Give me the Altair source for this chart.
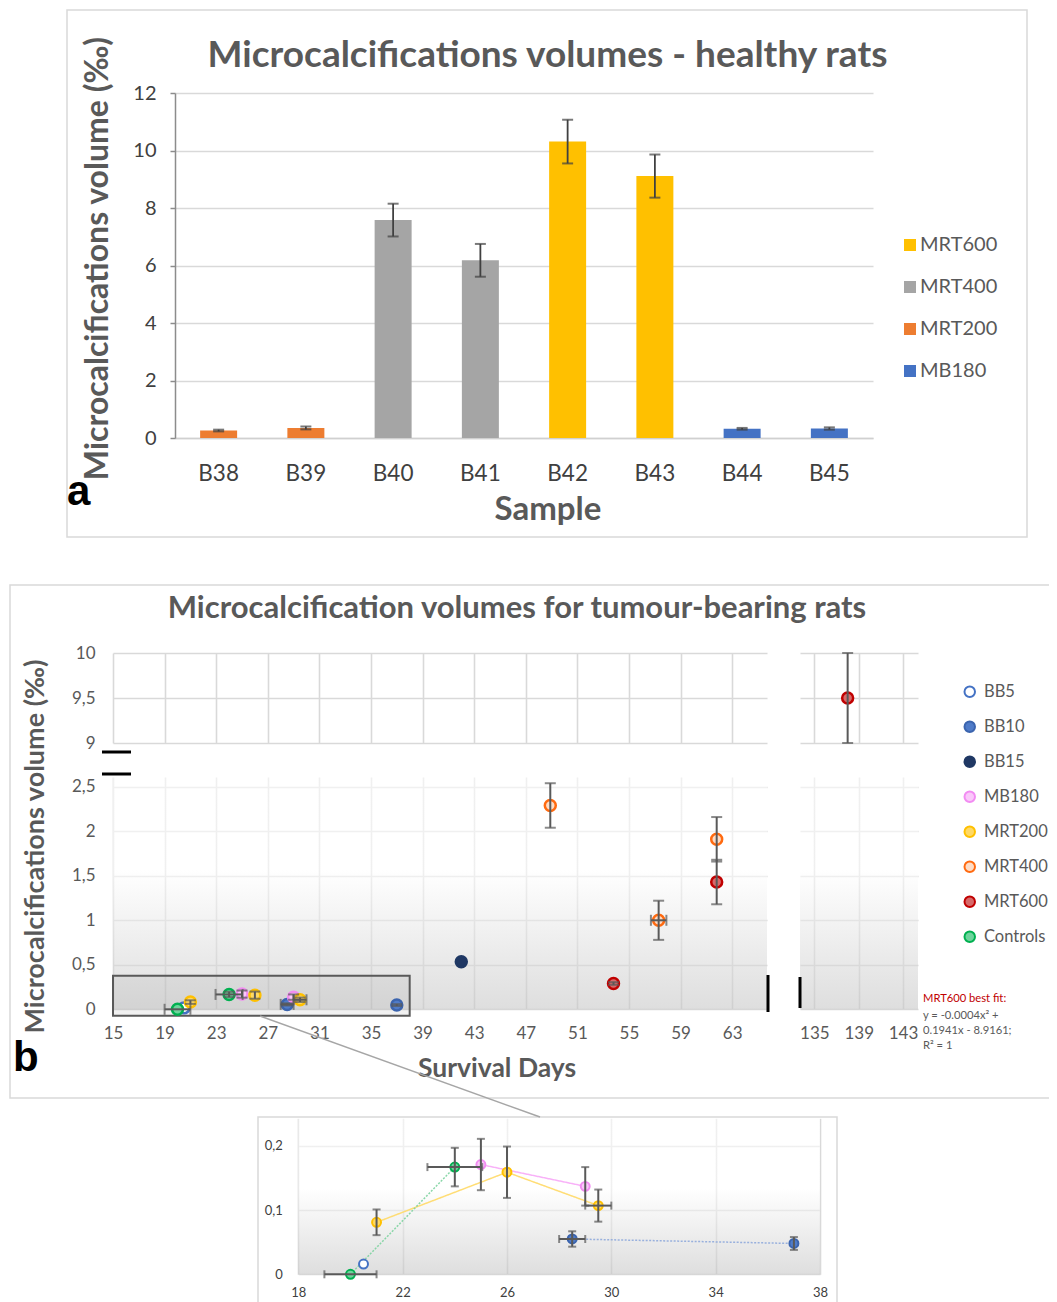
import altair as alt
import pandas as pd

# ---------------- data: panel a (healthy rats) ----------------
samples = ["B38", "B39", "B40", "B41", "B42", "B43", "B44", "B45"]
sample_group = ["MRT200", "MRT200", "MRT400", "MRT400", "MRT600", "MRT600", "MB180", "MB180"]
sample_vol = [0.26, 0.35, 7.58, 6.18, 10.31, 9.11, 0.32, 0.33]
sample_err = [0.03, 0.05, 0.57, 0.57, 0.76, 0.75, 0.03, 0.04]
healthy_groups = ["MRT600", "MRT400", "MRT200", "MB180"]
healthy_colors = ["#FFC000", "#A5A5A5", "#ED7D31", "#4472C4"]
a_yticks = [0, 2, 4, 6, 8, 10, 12]

# ---------------- data: panel b (tumour-bearing rats) ----------------
tumour_groups = ["BB5", "BB10", "BB15", "MB180", "MRT200", "MRT400", "MRT600", "Controls"]
tumour_stroke = ["#4472C4", "#3B64AE", "#1F3864", "#F28CF2", "#FFC000", "#FF6A10", "#C00000", "#00B050"]
tumour_fill = ["#FFFFFF", "#4F7BC8", "#203864", "#FAC8FA", "#FFD965", "#FDDCC6", "#D66A6A", "#6ED49C"]
tumour_line = ["#8FAADC", "#8FAADC", "#203864", "#F7A8F7", "#FFD966", "#F4B183", "#E08080", "#7CD39E"]

pt_group = ["BB5", "BB10", "BB10", "BB15", "MB180", "MB180", "MRT200", "MRT200", "MRT200",
            "MRT400", "MRT400", "MRT400", "MRT600", "MRT600", "MRT600", "Controls", "Controls"]
pt_day = [20.5, 28.5, 37.0, 42.0, 25.0, 29.0, 21.0, 26.0, 29.5,
          48.9, 57.3, 61.8, 53.8, 61.8, 138.0, 20.0, 24.0]
pt_vol = [0.016, 0.055, 0.048, 0.535, 0.171, 0.137, 0.081, 0.159, 0.107,
          2.29, 1.00, 1.91, 0.29, 1.43, 9.50, 0.000, 0.167]
pt_yerr = [0, 0.012, 0.010, 0, 0.040, 0.030, 0.020, 0.040, 0.025,
           0.25, 0.22, 0.25, 0.015, 0.25, 0.50, 0, 0.030]
pt_xerr = [0, 0.5, 0, 0, 0, 0, 0, 0, 0.5,
           0, 0.6, 0, 0, 0, 0, 1.0, 1.05]

main_xticks = [15, 19, 23, 27, 31, 35, 39, 43, 47, 51, 55, 59, 63]
far_xticks = [135, 139, 143]
low_yticks = [0, 0.5, 1, 1.5, 2, 2.5]
up_yticks = [9, 9.5, 10]
inset_xticks = [18, 22, 26, 30, 34, 38]
inset_yticks = [0, 0.1, 0.2]
solid_lines = ["MB180", "MRT200"]
dotted_lines = ["BB10", "Controls"]

fit_lines = ["y = -0.0004x\u00b2 +", "0.1941x - 8.9161;", "R\u00b2 = 1"]

# ---------------- layout (canvas pixels) ----------------
W, H = 1041, 1294
FONT = "Lato"
GRID = "#d9d9d9"
LAB = "#595959"
ERR = "#595959"
COMMA = "replace(format(datum.value, '.1~f'), '.', ',')"

A_X, A_Y = [167, 865], [430, 85]
LL_X, LOW_Y, UP_Y = [105, 759], [1001.3, 769], [735, 645]
UR_X = [792, 910]
IN_X, IN_Y = [290.3, 812], [1266.3, 1110.3]

MAIN_XDOM, FAR_XDOM = [15, 65.7], [133.7, 144.35]
LOW_YDOM, UP_YDOM = [0, 2.61], [9, 10]
IN_XDOM, IN_YDOM = [18, 38], [0, 0.243]


def qs(dom, rng):
    return alt.Scale(domain=dom, range=rng, nice=False, zero=False)


def ax_xgrid(values):
    # top-oriented axis: its grid lines follow the y scale range exactly
    return alt.Axis(orient="top", offset=0, title=None, values=values, grid=True,
                    gridColor=GRID, gridWidth=1.6, domain=False, ticks=False, tickSize=0,
                    labels=False)


def ax_xlab(ypix, values, size=17, pad=16, color=LAB):
    return alt.Axis(orient="bottom", offset=ypix - H, title=None, values=values, grid=False,
                    domain=False, ticks=False, tickSize=0, labelFont=FONT, labelFontSize=size,
                    labelColor=color, labelPadding=pad, labelAngle=0, labelFlush=False,
                    labelOverlap=False)


def ax_y(xpix, values, labels=True, size=17, pad=18, color=LAB):
    kw = dict(orient="left", offset=-xpix, title=None, values=values, grid=True,
              gridColor=GRID, gridWidth=1.6, domain=False, ticks=False, tickSize=0,
              labels=labels)
    if labels:
        kw.update(labelFont=FONT, labelFontSize=size, labelColor=color, labelPadding=pad,
                  labelExpr=COMMA, labelOverlap=False)
    return alt.Axis(**kw)


def grad(start, bottom):
    return alt.LinearGradient(
        gradient="linear", x1=0, x2=0, y1=0, y2=1,
        stops=[alt.GradientStop(color="#ffffff", offset=0),
               alt.GradientStop(color="#ffffff", offset=start),
               alt.GradientStop(color=bottom, offset=1)])


one = pd.DataFrame({"k": [0]})
layers = []


def frame(x0, x1, y0, y1, color="#d9d9d9", width=1.5):
    return alt.Chart(one).mark_rect(fillOpacity=0, stroke=color, strokeWidth=width).encode(
        x=alt.value(x0), x2=alt.value(x1), y=alt.value(y0), y2=alt.value(y1))


def text(s, x, y, size, weight="bold", color=LAB, angle=0, align="center", font=FONT,
         baseline="middle"):
    kw = dict(text=s, font=font, fontSize=size, fontWeight=weight, color=color,
              align=align, baseline=baseline)
    if angle:
        kw["angle"] = angle
    return alt.Chart(one).mark_text(**kw).encode(x=alt.value(x), y=alt.value(y))


# ================= panel a =================
dfa = pd.DataFrame({"sample": samples, "group": sample_group, "vol": sample_vol, "err": sample_err})
dfa["lo"] = dfa["vol"] - dfa["err"]
dfa["hi"] = dfa["vol"] + dfa["err"]

xa = alt.Scale(type="band", domain=samples, range=A_X, paddingInner=0.576, paddingOuter=0.288)
ya = alt.Scale(domain=[0, 12], range=A_Y, nice=False)

leg_a = alt.Legend(orient="none", legendX=892, legendY=227, title=None, symbolType="square",
                   symbolSize=144, symbolStrokeWidth=0, labelFont=FONT, labelFontSize=20,
                   labelColor=LAB, labelOffset=0, rowPadding=22, padding=0, direction="vertical")

layers.append(frame(59, 1019, 2, 529))
bars = alt.Chart(dfa).mark_bar().encode(
    x=alt.X("sample:N", scale=xa, sort=samples,
            axis=alt.Axis(orient="bottom", offset=A_Y[0] - H, title=None, labelAngle=0,
                          labelFont=FONT, labelFontSize=22.5, labelColor="#404040",
                          labelPadding=24, ticks=False, tickSize=0, domainColor="#d0d0d0",
                          domainWidth=1.5, grid=False)),
    y=alt.Y("vol:Q", scale=ya,
            axis=alt.Axis(orient="left", offset=-A_X[0], title=None, values=a_yticks,
                          format="d", labelFont=FONT, labelFontSize=20, labelColor="#404040",
                          labelPadding=14, tickSize=5, tickColor="#8c8c8c", tickWidth=1.5,
                          domainColor="#8c8c8c", domainWidth=1.5, grid=True,
                          gridColor=GRID, gridWidth=1.5)),
    color=alt.Color("group:N", scale=alt.Scale(domain=healthy_groups, range=healthy_colors),
                    legend=leg_a),
)
layers.append(bars)
layers.append(alt.Chart(dfa).mark_rule(color="#404040", strokeWidth=1.8).encode(
    x=alt.X("sample:N", scale=xa, sort=samples, axis=None),
    y=alt.Y("lo:Q", scale=ya, axis=None), y2="hi:Q"))
layers.append(alt.Chart(dfa).transform_fold(["lo", "hi"], as_=["end", "cap"]).mark_tick(
    orient="horizontal", size=11, thickness=2, color="#404040").encode(
    x=alt.X("sample:N", scale=xa, sort=samples, axis=None),
    y=alt.Y("cap:Q", scale=ya, axis=None)))

layers.append(text("Microcalcifications volumes - healthy rats", 539.5, 47.5, 37))
layers.append(text("Microcalcifications volume (\u2030)", 90, 250.5, 32, angle=270))
layers.append(text("Sample", 540, 502, 33))
layers.append(text("a", 59, 497, 42, color="#000000", align="left", font="Liberation Sans",
                   baseline="alphabetic"))

# ================= panel b =================
pts = pd.DataFrame({"group": pt_group, "day": pt_day, "vol": pt_vol,
                    "yerr": pt_yerr, "xerr": pt_xerr})
pts["ylo"] = pts["vol"] - pts["yerr"]
pts["yhi"] = pts["vol"] + pts["yerr"]
pts["xlo"] = pts["day"] - pts["xerr"]
pts["xhi"] = pts["day"] + pts["xerr"]

low = pts[(pts["day"] < MAIN_XDOM[1]) & (pts["vol"] <= LOW_YDOM[1])]
far = pts[(pts["day"] > FAR_XDOM[0]) & (pts["vol"] >= UP_YDOM[0])]
ins = pts[(pts["day"] <= IN_XDOM[1]) & (pts["vol"] <= IN_YDOM[1])]

fill_sc = alt.Scale(domain=tumour_groups, range=tumour_fill)
stroke_sc = alt.Scale(domain=tumour_groups, range=tumour_stroke)
leg_b = alt.Legend(orient="none", legendX=953.5, legendY=675.5, title=None, symbolType="circle",
                   symbolSize=110, symbolStrokeWidth=2, labelFont=FONT, labelFontSize=16.5,
                   labelColor=LAB, labelOffset=6, rowPadding=16, padding=0,
                   direction="vertical")

layers.append(frame(2, 1065, 577, 1090))

ll_x, low_y, up_y, ur_x = qs(MAIN_XDOM, LL_X), qs(LOW_YDOM, LOW_Y), qs(UP_YDOM, UP_Y), qs(FAR_XDOM, UR_X)


def region(xdom, ydom, xs, ys, xaxis, yaxis, gradient=None):
    df = pd.DataFrame({"x0": [xdom[0]], "x1": [xdom[1]], "y0": [ydom[0]], "y1": [ydom[1]]})
    if gradient is not None:
        m = alt.Chart(df).mark_rect(fill=gradient, opacity=0.6, strokeWidth=0)
    else:
        m = alt.Chart(df).mark_rect(fillOpacity=0, strokeWidth=0)
    return m.encode(x=alt.X("x0:Q", scale=xs, axis=xaxis), x2="x1:Q",
                    y=alt.Y("y0:Q", scale=ys, axis=yaxis), y2="y1:Q")


# lower-left (main) panel with gradient
layers.append(region(MAIN_XDOM, LOW_YDOM, ll_x, low_y, ax_xgrid(main_xticks),
                     ax_y(LL_X[0], low_yticks, pad=18), grad(0.40, "#c8c8c8")))
layers.append(region(MAIN_XDOM, LOW_YDOM, ll_x, low_y,
                     ax_xlab(LOW_Y[0], main_xticks, pad=16), None))
# upper-left
layers.append(region(MAIN_XDOM, UP_YDOM, ll_x, up_y, ax_xgrid(main_xticks),
                     ax_y(LL_X[0], up_yticks, pad=18)))
# upper-right
layers.append(region(FAR_XDOM, UP_YDOM, ur_x, up_y, ax_xgrid(far_xticks),
                     ax_y(UR_X[0], up_yticks, labels=False)))
# lower-right
layers.append(region(FAR_XDOM, LOW_YDOM, ur_x, low_y, ax_xgrid(far_xticks),
                     ax_y(UR_X[0], low_yticks, labels=False), grad(0.40, "#c8c8c8")))
layers.append(region(FAR_XDOM, LOW_YDOM, ur_x, low_y,
                     ax_xlab(LOW_Y[0], far_xticks, pad=16), None))

# zoom window on the main panel
zoom_df = pd.DataFrame({"x0": [15], "x1": [38], "y0": [-0.072], "y1": [0.378]})
layers.append(alt.Chart(zoom_df).mark_rect(fill="#8c8c8c", fillOpacity=0.12, stroke="#595959",
                                           strokeWidth=2).encode(
    x=alt.X("x0:Q", scale=ll_x, axis=None), x2="x1:Q",
    y=alt.Y("y0:Q", scale=low_y, axis=None), y2="y1:Q"))


def point_layers(df, xs, ys, size, sw, cap, capw=2):
    out = []
    X = lambda f: alt.X(f, type="quantitative", scale=xs, axis=None)
    Y = lambda f: alt.Y(f, type="quantitative", scale=ys, axis=None)
    out.append(alt.Chart(df).mark_point(shape="circle", size=size, strokeWidth=sw, opacity=1).encode(
        x=X("day"), y=Y("vol"),
        fill=alt.Fill("group:N", scale=fill_sc, legend=leg_b),
        stroke=alt.Stroke("group:N", scale=stroke_sc, legend=leg_b)))
    ye = df[df["yerr"] > 0]
    if len(ye):
        out.append(alt.Chart(ye).mark_rule(color=ERR, strokeWidth=2).encode(
            x=X("day"), y=Y("ylo"), y2="yhi:Q"))
        out.append(alt.Chart(ye).transform_fold(["ylo", "yhi"], as_=["end", "cap"]).mark_tick(
            orient="horizontal", size=cap, thickness=capw, color=ERR).encode(x=X("day"), y=Y("cap")))
    xe = df[df["xerr"] > 0]
    if len(xe):
        out.append(alt.Chart(xe).mark_rule(color=ERR, strokeWidth=2).encode(
            x=X("xlo"), x2="xhi:Q", y=Y("vol")))
        out.append(alt.Chart(xe).transform_fold(["xlo", "xhi"], as_=["end", "cap"]).mark_tick(
            orient="vertical", size=cap, thickness=capw, color=ERR).encode(x=X("cap"), y=Y("vol")))
    return out


layers += point_layers(low, ll_x, low_y, 120, 2.5, 11)
layers += point_layers(far, ur_x, up_y, 120, 2.5, 11)

# axis-break marks
for (x0, x1, y0, y1) in [(94, 123, 744, 744), (94, 123, 766, 766)]:
    layers.append(alt.Chart(one).mark_rule(color="#000000", strokeWidth=3).encode(
        x=alt.value(x0), x2=alt.value(x1), y=alt.value(y0), y2=alt.value(y1)))
for (x0, y0, y1) in [(760, 967, 1004), (792, 969, 1000)]:
    layers.append(alt.Chart(one).mark_rule(color="#000000", strokeWidth=3).encode(
        x=alt.value(x0), y=alt.value(y0), y2=alt.value(y1)))

layers.append(text("Microcalcification volumes for tumour-bearing rats", 509, 600.5, 31))
layers.append(text("Microcalcifications volume (\u2030)", 28, 838.5, 27, angle=270))
layers.append(text("Survival Days", 489, 1061, 26.5))
layers.append(text("b", 5, 1063, 42, color="#000000", align="left", font="Liberation Sans",
                   baseline="alphabetic"))
layers.append(text("MRT600 best fit:", 915, 991, 11.2, weight="normal", color="#C00000",
                   align="left"))
for i, s in enumerate(fit_lines):
    layers.append(text(s, 915, 1007.5 + 15 * i, 11.2, weight="normal", color=LAB, align="left"))

# ================= inset =================
layers.append(frame(250, 829, 1109, 1310))
layers.append(alt.Chart(one).mark_rule(color="#a6a6a6", strokeWidth=1.5).encode(
    x=alt.value(252), x2=alt.value(532), y=alt.value(1008), y2=alt.value(1109)))

in_x, in_y = qs(IN_XDOM, IN_X), qs(IN_YDOM, IN_Y)
layers.append(region(IN_XDOM, IN_YDOM, in_x, in_y, ax_xgrid(inset_xticks),
                     ax_y(IN_X[0], inset_yticks, size=13, pad=16, color="#404040"),
                     grad(0.45, "#c8c8c8")))
layers.append(region(IN_XDOM, IN_YDOM, in_x, in_y,
                     ax_xlab(IN_Y[0], inset_xticks, size=13, pad=12, color="#404040"), None))

line_sc = alt.Scale(domain=tumour_groups, range=tumour_line)
for grp, dash in [(solid_lines, [1, 0]), (dotted_lines, [2, 1.5])]:
    ldf = ins[ins["group"].isin(grp)]
    layers.append(alt.Chart(ldf).mark_line(strokeWidth=1.5, strokeDash=dash, opacity=0.9).encode(
        x=alt.X("day:Q", scale=in_x, axis=None), y=alt.Y("vol:Q", scale=in_y, axis=None),
        color=alt.Color("group:N", scale=line_sc, legend=None), detail="group:N",
        order="day:Q"))
layers += point_layers(ins, in_x, in_y, 80, 2, 8)

chart = alt.layer(*layers).resolve_scale(
    x="independent", y="independent", color="independent"
).properties(
    width=W, height=H, padding=0, autosize=alt.AutoSizeParams(type="none"), background="white"
).configure_view(strokeWidth=0)

chart.save("out.html", embed_options={"renderer": "svg", "actions": False})
